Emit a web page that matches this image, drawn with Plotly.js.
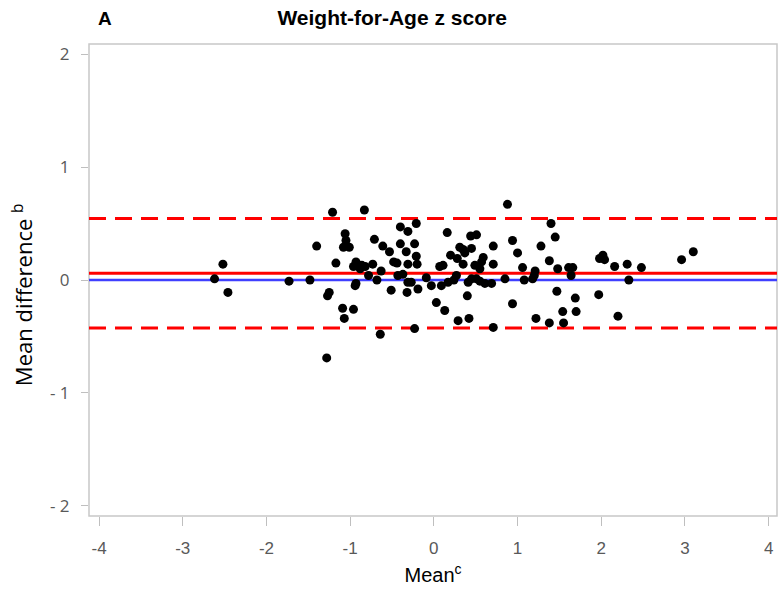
<!DOCTYPE html>
<html>
<head>
<meta charset="utf-8">
<script src="https://cdn.plot.ly/plotly-3.0.1.min.js"></script>
<style>html,body{margin:0;padding:0;background:#fff;}#chart{width:778px;height:595px;}</style>
</head>
<body>
<div id="chart"></div>
<script>
// Bland-Altman data: mean of two measures (x) vs difference (y)
var meanVals = [
 -2.62,-2.52,-2.46,-1.73,-1.48,-1.40,-1.28,-1.25,-1.27,-1.21,
 -1.17,-1.06,-1.05,-1.08,-1.01,-1.09,-1.07,-0.96,-0.83,-0.94,
 -0.93,-0.93,-0.96,-0.86,-0.82,-0.73,-0.78,-0.68,-0.63,-0.71,
 -0.61,-0.53,-0.40,-0.31,-0.21,-0.40,-0.33,-0.23,-0.21,-0.48,
 -0.44,-0.31,-0.20,-0.43,-0.37,-0.31,-0.27,-0.51,-0.32,-0.64,
 -0.23,0.88,0.16,0.44,0.51,0.71,0.94,0.31,0.35,0.37,
 0.45,0.20,0.28,0.35,0.59,0.57,0.71,0.07,0.11,0.49,
 0.55,0.27,-0.09,-0.03,0.09,0.17,0.24,0.41,0.45,0.51,
 0.55,0.61,0.69,0.85,-0.19,0.40,0.03,0.13,0.29,0.42,
 0.71,0.94,1.40,1.45,1.28,1.00,1.38,1.06,1.21,1.48,
 1.61,1.66,1.20,1.08,1.18,1.64,1.98,2.02,2.04,1.47,
 1.97,1.69,1.54,1.70,1.22,1.38,1.55,2.16,2.31,2.48,
 2.33,2.20,2.96,3.10,-0.88
];
var diffVals = [
 0.01,0.14,-0.11,-0.01,0.00,0.30,-0.69,-0.11,-0.14,0.60,
 0.15,0.41,0.35,0.29,0.29,-0.25,-0.34,-0.26,0.62,-0.05,
 -0.03,0.16,0.12,0.13,0.12,0.14,0.04,0.00,0.08,0.36,
 0.30,0.25,0.47,0.43,0.50,0.32,0.25,0.32,0.21,0.16,
 0.15,0.14,0.14,0.04,0.05,-0.02,-0.02,-0.09,-0.11,-0.48,
 -0.43,0.67,0.42,0.39,0.40,0.30,0.35,0.29,0.27,0.24,
 0.28,0.22,0.19,0.14,0.20,0.16,0.14,0.12,0.13,0.13,
 0.10,0.04,0.02,-0.05,-0.05,-0.02,0.00,-0.02,0.01,0.01,
 -0.01,-0.03,-0.03,0.01,-0.08,-0.14,-0.20,-0.27,-0.36,-0.34,
 -0.42,-0.21,0.50,0.38,0.30,0.24,0.17,0.11,0.08,0.10,
 0.11,0.11,0.04,0.00,0.01,0.04,0.19,0.22,0.18,-0.10,
 -0.13,-0.16,-0.28,-0.28,-0.34,-0.38,-0.38,0.12,0.14,0.11,
 0.00,-0.32,0.18,0.25,0.10
];
var zeroLine = 0;
var biasLine = 0.06;
var upperLoA = 0.545;
var lowerLoA = -0.425;
var xTickVals = [-4,-3,-2,-1,0,1,2,3,4];
var xTickText = ['-4','-3','-2','-1','0','1','2','3','4'];
var yTickVals = [-2,-1,0,1,2];
var yTickText = ['- 2','- 1','0','1','2'];

var trace = {
  x: meanVals, y: diffVals, mode: 'markers', type: 'scatter',
  marker: {color: '#000000', size: 9},
  hoverinfo: 'skip', showlegend: false, cliponaxis: false
};

function hline(y, color, width, dash) {
  return {type: 'line', xref: 'paper', x0: 0, x1: 1, yref: 'y', y0: y, y1: y,
          line: {color: color, width: width, dash: dash}, layer: 'below'};
}

var layout = {
  width: 778, height: 595,
  margin: {l: 89, r: 1, t: 44, b: 79, pad: 0},
  paper_bgcolor: '#ffffff', plot_bgcolor: '#ffffff',
  showlegend: false,
  title: {text: '<b>Weight-for-Age z score</b>', x: 0.504, xref: 'container', xanchor: 'center',
          y: 0.97, yref: 'container', yanchor: 'middle',
          font: {family: 'Liberation Sans Narrow, Liberation Sans, Arial', size: 21, color: '#000'}},
  xaxis: {
    range: [-4.12, 4.1], tickvals: xTickVals, ticktext: xTickText,
    showgrid: false, zeroline: false, showline: false,
    ticks: 'outside', ticklen: 9, tickcolor: '#bfbfbf', tickwidth: 1,
    ticklabelstandoff: 8,
    tickfont: {family: 'Liberation Sans Narrow, Liberation Sans, Arial', size: 17, color: '#595959'},
    title: {text: 'Mean<sup>c</sup>', standoff: 10,
            font: {family: 'Liberation Sans Narrow, Liberation Sans, Arial', size: 20, color: '#000'}}
  },
  yaxis: {
    range: [-2.09, 2.09], tickvals: yTickVals, ticktext: yTickText,
    showgrid: false, zeroline: false, showline: false,
    ticks: 'outside', ticklen: 7, tickcolor: '#bfbfbf', tickwidth: 1,
    ticklabelstandoff: 8,
    tickfont: {family: 'Open Sans, DejaVu Sans', size: 17, color: '#595959'}
  },
  shapes: [
    {type: 'rect', xref: 'paper', yref: 'paper', x0: 0, x1: 1, y0: 0, y1: 1,
     line: {color: '#c8c8c8', width: 1.5}, layer: 'below'},
    hline(zeroLine, '#3f3fff', 2.5, 'solid'),
    hline(biasLine, '#ff0000', 3, 'solid'),
    hline(upperLoA, '#ff0000', 3, '17px,9px'),
    hline(lowerLoA, '#ff0000', 3, '17px,9px')
  ],
  annotations: [
    {text: '<b>A</b>', xref: 'paper', yref: 'paper', x: 0.01, y: 1.055, xanchor: 'left', yanchor: 'middle',
     showarrow: false, font: {family: 'Liberation Sans, Arial', size: 19, color: '#000'}},
    {text: 'Mean difference <sup>b</sup>', xref: 'paper', yref: 'paper', x: -0.0974, y: 0.47,
     xanchor: 'center', yanchor: 'middle', textangle: -90, showarrow: false,
     font: {family: 'Open Sans, DejaVu Sans', size: 22, color: '#000'}}
  ]
};

Plotly.newPlot('chart', [trace], layout, {displayModeBar: false, staticPlot: true});
</script>
</body>
</html>
